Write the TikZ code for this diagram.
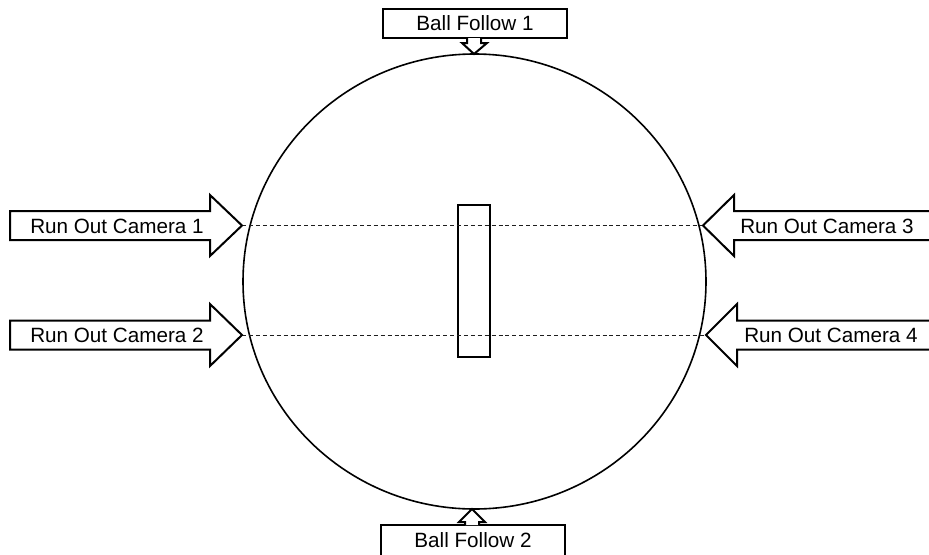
\documentclass[tikz,border=0pt]{standalone}
\usepackage{fontspec}
\setmainfont{Liberation Sans}
\usepackage{xcolor}

\begin{document}
\begin{tikzpicture}[x=0.75pt,y=0.75pt,yscale=-1,xscale=1]
\tikzset{
  blockarrow/.style={draw, line width=1.5pt, fill=white, line join=miter},
  camlabel/.style={inner sep=0.75pt, font=\fontsize{15.5}{18}\selectfont},
  sightline/.style={dashed, dash pattern=on 3pt off 2.2pt, line width=0.6pt, color={rgb, 255:red, 30; green, 30; blue, 30}}
}
\useasboundingbox (0,0) rectangle (929,554);
\clip (0,0) rectangle (929,554);

% ground and pitch
\draw [line width=1.2pt] (474.5,281.5) ellipse (231.5 and 227.5);
\draw [line width=1.5pt] (458,205) rectangle (490,357);

% arrow tips
\coordinate (tip1) at (242,225.5);
\coordinate (tip2) at (242,335);
\coordinate (tip3) at (703,225.5);
\coordinate (tip4) at (706,335);

% sight lines
\draw [sightline] (tip1) -- (tip3);
\draw [sightline] (tip2) -- (tip4);

% run out cameras
\draw [blockarrow] (10,211) -- (210,211) -- (210,195) -- (tip1) -- (210,256) -- (210,240) -- (10,240) -- cycle;
\draw [blockarrow] (10,320.5) -- (210,320.5) -- (210,304) -- (tip2) -- (210,366) -- (210,349.5) -- (10,349.5) -- cycle;
\draw [blockarrow] (940,211) -- (734,211) -- (734,195) -- (tip3) -- (734,256) -- (734,240) -- (940,240) -- cycle;
\draw [blockarrow] (940,320.5) -- (737,320.5) -- (737,304) -- (tip4) -- (737,366) -- (737,349.5) -- (940,349.5) -- cycle;

\node [camlabel] (cam1) at (117,226) {Run Out Camera 1};
\node [camlabel] (cam2) at (117,335.5) {Run Out Camera 2};
\node [camlabel] (cam3) at (827,226) {Run Out Camera 3};
\node [camlabel] (cam4) at (831,335.5) {Run Out Camera 4};

% ball follow cameras
\draw [blockarrow] (383,9) rectangle (567,38);
\draw [blockarrow] (467,38) -- (467,43) -- (462,43) -- (474,54) -- (487,43) -- (481,43) -- (481,38);
\draw [blockarrow] (381,525) rectangle (565,560);
\draw [blockarrow] (465,525) -- (465,522) -- (459,522) -- (472,509) -- (485,522) -- (479,522) -- (479,525);

\node [camlabel] (ball1) at (475,23.5) {Ball Follow 1};
\node [camlabel] (ball2) at (473,540.5) {Ball Follow 2};
\end{tikzpicture}
\end{document}
